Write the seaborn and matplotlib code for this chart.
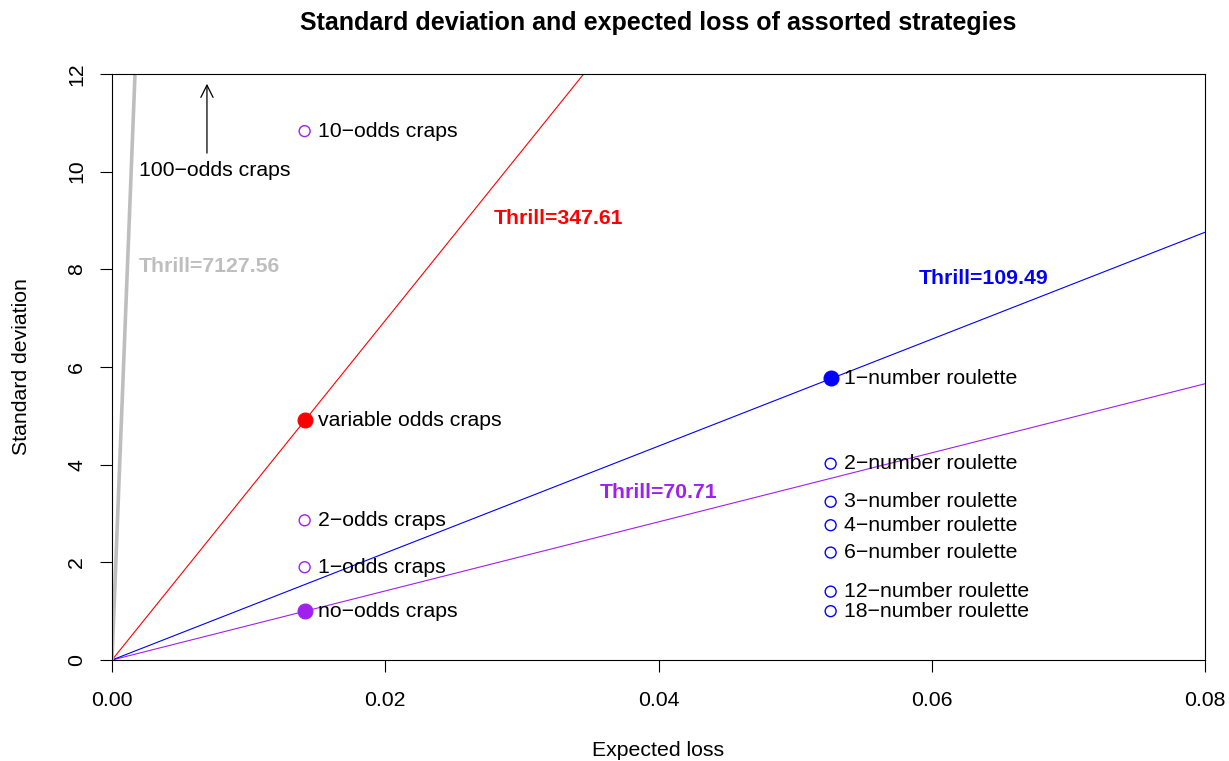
import matplotlib
matplotlib.use("Agg")
import matplotlib.pyplot as plt
import seaborn as sns
import pandas as pd

# ---- data ----
strategies = ["no−odds craps", "1−odds craps", "2−odds craps", "10−odds craps",
              "variable odds craps", "1−number roulette", "2−number roulette",
              "3−number roulette", "4−number roulette", "6−number roulette",
              "12−number roulette", "18−number roulette"]
expected_loss = [0.0141, 0.0141, 0.0141, 0.0141, 0.0141,
                 0.0526, 0.0526, 0.0526, 0.0526, 0.0526, 0.0526, 0.0526]
std_dev = [1.00, 1.90, 2.86, 10.83, 4.91,
           5.77, 4.02, 3.24, 2.76, 2.20, 1.40, 1.00]
point_color = ["#A020F0", "#A020F0", "#A020F0", "#A020F0", "#FF0000",
               "#0000FF", "#0000FF", "#0000FF", "#0000FF", "#0000FF", "#0000FF", "#0000FF"]
filled = [True, False, False, False, True,
          True, False, False, False, False, False, False]

thrill_values = [70.71, 109.49, 347.61, 7127.56]
thrill_colors = ["#A020F0", "#0000FF", "#FF0000", "#BEBEBE"]
thrill_lw = [0.8, 0.8, 0.8, 2.6]
thrill_label_x = [0.0400, 0.0638, 0.0327, 0.00714]
thrill_label_y = [3.44, 7.82, 9.05, 8.05]

arrow_label = "100−odds craps"
arrow_label_xy = (0.00754, 10.03)
arrow_tail = (0.00695, 10.38)
arrow_head = (0.00695, 11.80)

x_ticks = [0.00, 0.02, 0.04, 0.06, 0.08]
x_ticklabels = ["0.00", "0.02", "0.04", "0.06", "0.08"]
y_ticks = [0, 2, 4, 6, 8, 10, 12]

df = pd.DataFrame({"strategy": strategies, "el": expected_loss, "sd": std_dev,
                   "color": point_color, "filled": filled})

# ---- style ----
sns.set_style("ticks")
plt.rcParams["font.family"] = ["Liberation Sans", "DejaVu Sans"]
plt.rcParams["text.color"] = "black"
plt.rcParams["axes.labelcolor"] = "black"
FS = 15.3

fig = plt.figure(figsize=(12.29, 7.61), dpi=100)
W, H = 1229, 761
ax = fig.add_axes([112 / W, 1 - 660 / H, (1205 - 112) / W, (660 - 74) / H])

# thrill lines
for t, c, lw in zip(thrill_values, thrill_colors, thrill_lw):
    sns.lineplot(x=[0.0, 0.08], y=[0.0, t * 0.08], color=c, lw=lw, ax=ax, zorder=2)

# points
for col in df["color"].unique():
    sub_f = df[(df["color"] == col) & (df["filled"])]
    sub_o = df[(df["color"] == col) & (~df["filled"])]
    if len(sub_f):
        sns.scatterplot(data=sub_f, x="el", y="sd", color=col, edgecolor=col,
                        s=115, linewidth=0.8, ax=ax, zorder=4)
    if len(sub_o):
        sns.scatterplot(data=sub_o, x="el", y="sd", facecolor="none", edgecolor=col,
                        s=62, linewidth=1.0, ax=ax, zorder=4)

# point labels
for name, x, y in zip(df["strategy"], df["el"], df["sd"]):
    ax.annotate(name, (x, y), xytext=(9.5, 0), textcoords="offset points",
                ha="left", va="center", fontsize=FS, color="black", zorder=5)

# thrill labels
for t, c, lx, ly in zip(thrill_values, thrill_colors, thrill_label_x, thrill_label_y):
    ax.text(lx, ly, f"Thrill={t:.2f}", color=c, fontsize=FS, fontweight="bold",
            ha="center", va="center", zorder=5)

# 100-odds arrow
ax.annotate("", xy=arrow_head, xytext=arrow_tail,
            arrowprops=dict(arrowstyle="->", color="black", lw=0.9,
                            mutation_scale=22, shrinkA=0, shrinkB=0))
ax.text(arrow_label_xy[0], arrow_label_xy[1], arrow_label, fontsize=FS,
        ha="center", va="center", color="black")

ax.set_xlim(0, 0.08)
ax.set_ylim(0, 12)
ax.set_xticks(x_ticks)
ax.set_xticklabels(x_ticklabels)
ax.set_yticks(y_ticks)
ax.set_yticklabels([str(v) for v in y_ticks], rotation=90, va="center")
for sp in ax.spines.values():
    sp.set_visible(True)
    sp.set_linewidth(0.8)
    sp.set_color("black")
ax.tick_params(axis="both", direction="out", length=8.6, width=0.8,
               labelsize=FS, colors="black")
ax.tick_params(axis="x", pad=14)
ax.tick_params(axis="y", pad=10)

ax.set_xlabel("Expected loss", fontsize=FS, labelpad=0, color="black")
ax.set_ylabel("Standard deviation", fontsize=FS, labelpad=0, color="black")
ax.xaxis.set_label_coords(0.5, -(751 - 660) / (660 - 74), transform=ax.transAxes)
ax.yaxis.set_label_coords(-(112 - 22) / (1205 - 112), 0.5, transform=ax.transAxes)
ax.xaxis.label.set_va("center")
ax.yaxis.label.set_va("center")

fig.text(658.5 / W, 1 - 23 / H, "Standard deviation and expected loss of assorted strategies",
         fontsize=18.0, fontweight="bold", ha="center", va="center", color="black")

fig.savefig("out.png", dpi=100)
